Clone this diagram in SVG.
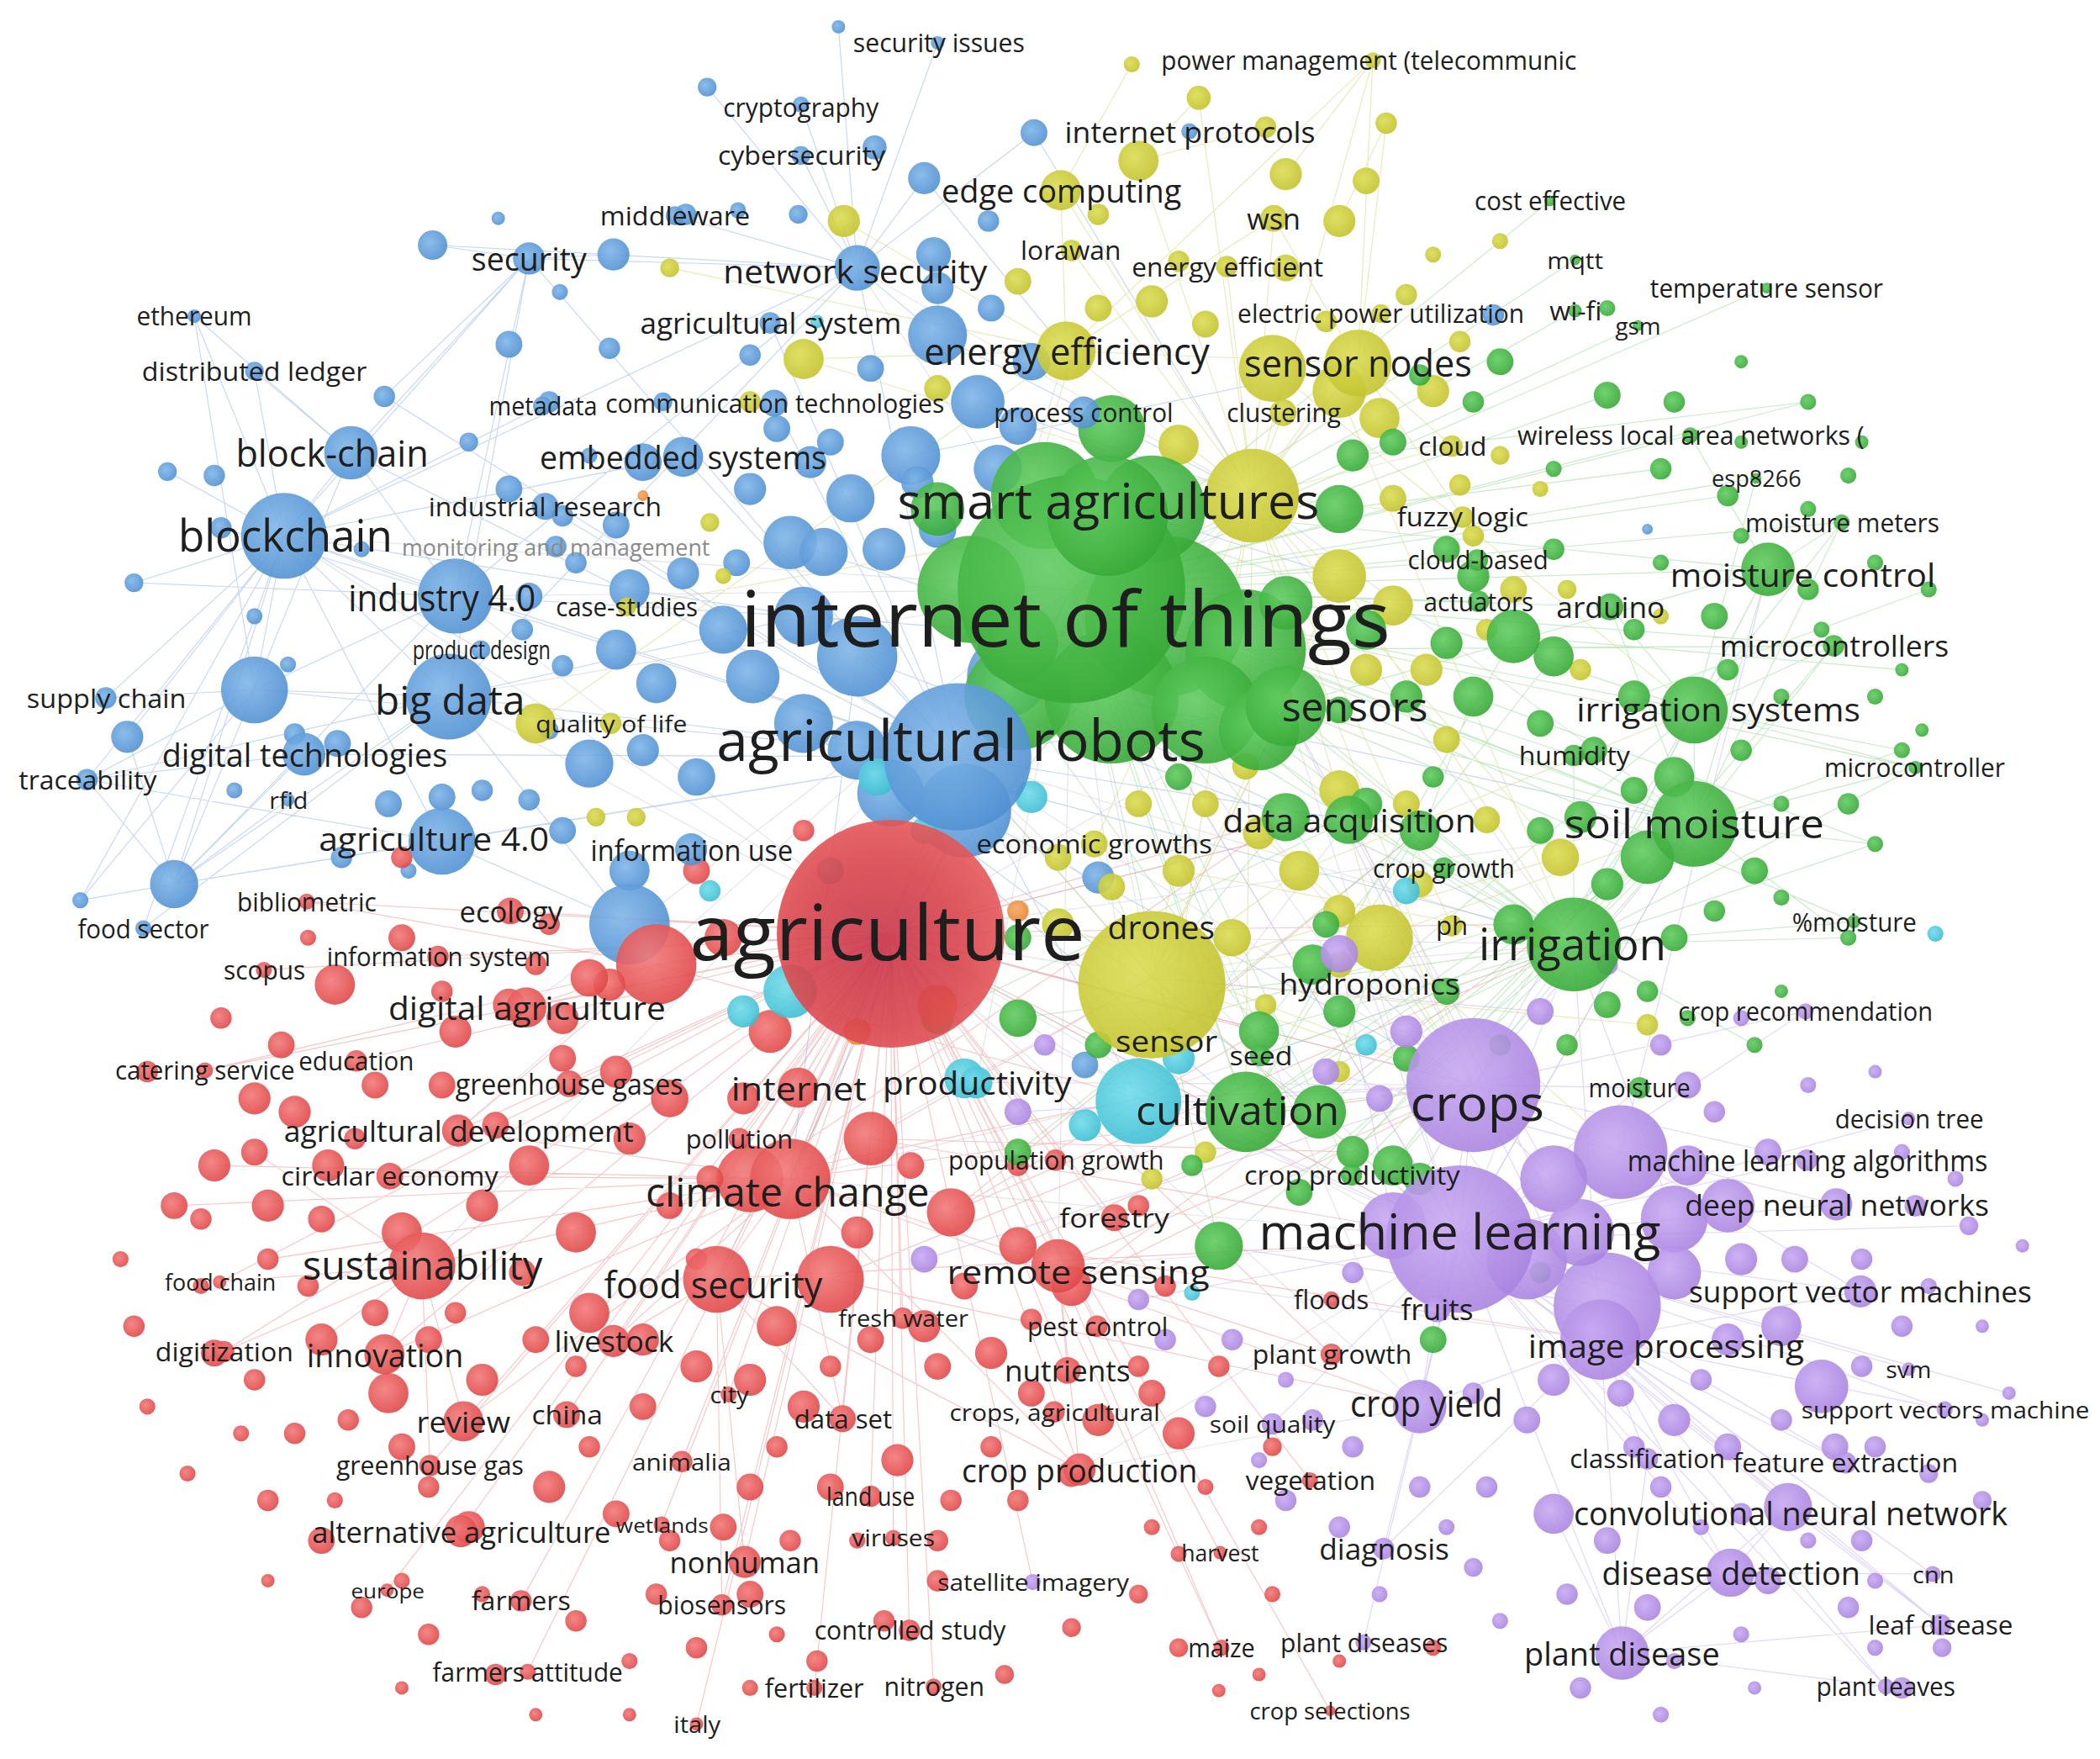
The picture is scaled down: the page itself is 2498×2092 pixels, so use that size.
<svg xmlns="http://www.w3.org/2000/svg" width="2498" height="2092" viewBox="0 0 2498 2092">
<defs>
<radialGradient id="gr" cx=".4" cy=".4" r=".65"><stop offset="0" stop-color="#f27a7a"/><stop offset="1" stop-color="#e04545"/></radialGradient>
<radialGradient id="gr2" cx=".45" cy=".55" r=".6"><stop offset="0" stop-color="#c8344a"/><stop offset=".6" stop-color="#d8444c"/><stop offset="1" stop-color="#e85a5a"/></radialGradient>
<radialGradient id="gb" cx=".4" cy=".4" r=".65"><stop offset="0" stop-color="#80b6e8"/><stop offset="1" stop-color="#4f8fd2"/></radialGradient>
<radialGradient id="gg" cx=".4" cy=".4" r=".65"><stop offset="0" stop-color="#62cc62"/><stop offset="1" stop-color="#35a835"/></radialGradient>
<radialGradient id="gy" cx=".4" cy=".4" r=".65"><stop offset="0" stop-color="#dcdc55"/><stop offset="1" stop-color="#c2c22c"/></radialGradient>
<radialGradient id="gp" cx=".4" cy=".4" r=".65"><stop offset="0" stop-color="#c8aaf2"/><stop offset="1" stop-color="#a983e0"/></radialGradient>
<radialGradient id="gc" cx=".4" cy=".4" r=".65"><stop offset="0" stop-color="#72dcea"/><stop offset="1" stop-color="#3bbdd2"/></radialGradient>
<radialGradient id="go" cx=".4" cy=".4" r=".65"><stop offset="0" stop-color="#f7a860"/><stop offset="1" stop-color="#e8842c"/></radialGradient>
</defs>
<style>
circle{opacity:.9}
.r{fill:url(#gr)}.r2{fill:url(#gr2)}.b{fill:url(#gb)}.g{fill:url(#gg)}.y{fill:url(#gy)}.p{fill:url(#gp)}.c{fill:url(#gc)}.o{fill:url(#go)}
path{fill:none;stroke-width:.7;stroke-linecap:round}
.lr{stroke:#f08c8c;stroke-opacity:.5}.lb{stroke:#9cbde6;stroke-opacity:.6}.lg{stroke:#98d898;stroke-opacity:.55}
.ly{stroke:#d8d88a;stroke-opacity:.6}.lp{stroke:#cdb8f0;stroke-opacity:.6}.lm{stroke:#c8c8d8;stroke-opacity:.5}
text{font-family:"Open Sans","Liberation Sans",sans-serif;fill:#1e1e1e;text-anchor:middle;dominant-baseline:central}
.f15{font-size:15px}.f17{font-size:17px}.f19{font-size:19px}.f22{font-size:22px}.f24{font-size:24px}.f27{font-size:27px}.f30{font-size:30px}.f33{font-size:33px}.f37{font-size:37px}.f42{font-size:42px}.f58{font-size:58px}
.gray{fill:#8a8a8a}
</style>
<rect width="2498" height="2092" fill="#ffffff"/>
<g transform="scale(1.5932)">
<g id="connectors">
<path class="lm" d="M800 440L665 697M800 440L715 565M800 440L1100 810M800 440L1090 925M665 697L1090 925M665 697L1100 810M665 697L715 565M665 697L860 730M665 697L850 820M665 697L212 400M665 697L335 520M665 697L1175 705M665 697L1265 615M800 440L335 520M800 440L212 400M800 440L590 880M800 440L860 730M800 440L850 820M715 565L1175 705M715 565L590 880M800 440L315 945M800 440L535 955M800 440L790 945M800 440L1195 1000M800 440L1060 1050M665 697L1195 1000M665 697L1060 1050M665 697L960 527M665 697L1014 271M665 697L796 262M715 565L1090 925M715 565L1100 810M860 730L1090 925M860 730L1175 705M850 820L1090 925M850 820L1175 705M935 370L1175 705M935 370L1265 615M935 370L665 697M935 370L715 565M640 200L935 370M640 200L800 440M340 445L800 440M340 445L665 697M1100 810L1175 705M1090 925L1175 705M1090 925L1265 615M590 880L1090 925M590 880L850 820M590 880L860 730M960 527L1090 925M960 527L860 730M1007 612L665 697M1007 612L850 820M393 752L800 440M342 844L800 440M596 812L800 440M729 808L800 440M729 808L1100 810M806 1097L1090 925M806 1097L1060 1050M790 945L1090 925M790 945L1195 1000"/>
<path class="lb" d="M212 400L262 338M212 400L190 515M212 400L145 236M212 400L190 277M212 400L79 521M212 400L65 582M212 400L130 660M212 400L335 520M212 400L340 445M212 400L510 341M212 400L640 200M212 400L107 693M212 400L95 550M212 400L60 672M212 400L125 352M212 400L100 435M212 400L715 565M212 400L330 628M212 400L395 193M212 400L600 460M335 520L130 660M335 520L65 582M335 520L190 515M335 520L395 193M335 520L640 200M335 520L715 565M335 520L107 693M335 520L600 460M335 520L470 690M190 515L65 582M190 515L79 521M190 515L60 672M190 515L130 660M190 515L262 338M190 515L145 236M190 515L340 445M190 515L715 565M640 200L395 193M640 200L323 183M640 200L772 99M640 200L598 78M640 200L528 65M640 200L700 32M640 200L715 565M640 200L504 161M640 200L598 116M640 200L626 20M715 565L395 193M715 565L287 296M715 565L227 563M715 565L330 628M715 565L340 445M715 565L510 341M715 565L130 660M715 565L262 338M262 338L190 277M262 338L145 236M262 338L340 445M262 338L395 193M130 660L65 582M130 660L60 672M130 660L95 550M130 660L340 445M130 660L330 628M340 445L100 435M340 445L165 394M340 445L395 193M340 445L640 200M340 445L600 460M395 193L323 183M395 193L458 190M395 193L287 296M330 628L470 690M330 628L65 582M640 200L690 133M640 200L700 250M575 241L715 565M578 301L715 565M405 303L212 400M407 378L715 565M359 485L212 400M227 563L65 582M227 563L130 660M215 597L130 660M715 565L960 527M715 565L1007 612M715 565L860 730M715 565L850 820M640 490L960 610M600 460L930 485M752 505L1175 705M720 605L1100 810M665 592L985 830M640 560L1130 690M680 340L1014 271M730 300L935 370M745 350L1000 430M600 540L930 830M590 405L960 527M640 490L590 880M720 605L590 880M752 505L1265 615M700 250L935 370M690 133L796 262M772 99L935 370"/>
<path class="lr" d="M665 697L490 720M665 697L590 880M665 697L315 945M665 697L535 955M665 697L393 752M665 697L342 844M665 697L291 878M665 697L287 1011M665 697L346 1061M665 697L458 1001M665 697L423 1056M665 697L321 1094M665 697L344 1143M665 697L389 1195M665 697L394 1248M665 697L539 1198M665 697L556 1166M665 697L679 1217M665 697L608 1260M665 697L697 1259M665 697L650 1117M665 697L629 1059M665 697L806 1097M665 697L797 1023M665 697L819 990M665 697L790 945M665 697L832 909M665 697L788 866M665 697L596 812M665 697L425 809M665 697L266 792M665 697L153 799M665 697L197 724M665 697L229 673M665 697L381 680M665 697L327 714M665 697L167 1009M665 697L164 957M665 697L509 1091M665 697L667 1148M665 697L771 1181M665 697L912 1230M665 697L993 1277M665 697L520 1287M665 697L994 1011M665 697L978 1105M665 697L911 1159M665 697L289 1187M665 697L494 1138M665 697L544 1041M665 697L552 850M665 697L674 984M590 880L315 945M590 880L535 955M590 880L342 844M590 880L291 878M590 880L287 1011M590 880L458 1001M590 880L346 1061M590 880L806 1097M590 880L790 945M590 880L629 1059M590 880L160 870M590 880L130 900M590 880L200 940M315 945L167 1009M315 945L164 957M315 945L287 1011M315 945L346 1061M315 945L321 1094M315 945L190 860M315 945L240 1000M535 955L458 1001M535 955L556 1166M535 955L539 1198M535 955L629 1059M535 955L806 1097M790 945L806 1097M790 945L797 1023M790 945L912 1230M790 945L994 1011M490 720L393 752M490 720L342 844M490 720L229 673M490 720L153 799M665 697L1100 810M665 697L1090 925M590 880L1100 810M590 880L1060 1050M790 945L1100 810M650 850L1090 925M710 905L1175 705M560 880L850 820M620 955L1060 1050M535 955L1090 925M760 930L1195 1000M800 960L1100 810M665 697L930 830M665 697L960 610M665 697L1007 612M490 720L850 820M665 697L940 770M650 850L860 730M710 905L940 770M760 930L985 830M650 850L1010 860M620 955L930 830M560 880L960 610M710 905L1060 620M800 960L1230 640M665 697L1130 690"/>
<path class="lg" d="M800 440L960 527M800 440L1175 705M800 440L1265 615M800 440L1265 530M800 440L1320 425M800 440L1202 453M800 440L1104 449M800 440L1103 418M800 440L1369 482M800 440L1430 573M800 440L1175 564M800 440L1007 612M800 440L1078 648M800 440L1262 325M800 440L1375 390M800 440L1311 357M800 440L1157 150M800 440L1176 194M800 440L1176 232M800 440L1223 243M800 440L1319 215M800 440L941 788M800 440L1009 877M800 440L930 830M800 440L910 930M800 440L1384 688M800 440L1200 295M800 440L1350 300M800 440L1290 370M800 440L1420 560M1175 705L1265 615M1175 705L1265 530M1175 705L1320 425M1175 705L1369 482M1175 705L1430 573M1175 705L1384 688M1175 705L1009 877M1175 705L941 788M1175 705L1175 564M1175 705L1078 648M1175 705L1007 612M1175 705L1250 700M1175 705L1380 700M1175 705L1400 630M1175 705L1310 780M1265 615L1265 530M1265 615L1320 425M1265 615L1369 482M1265 615L1430 573M1265 615L1375 390M1265 615L1175 564M1265 615L1202 453M1265 615L1420 560M1265 615L1400 630M1265 615L1380 700M1265 530L1320 425M1265 530L1369 482M1265 530L1430 573M1265 530L1375 390M1265 530L1202 453M1265 530L1311 357M960 527L1175 705M960 527L1265 615M960 527L1320 425M1320 425L1375 390M1320 425L1262 325M960 610L1100 810M960 610L860 730M1020 600L1175 705M930 830L1100 810M930 830L1175 705M985 830L1265 615M940 770L1175 705M1000 755L1265 530M1060 620L930 830M1130 690L930 830M1230 640L930 830M1200 660L1010 860M1250 580L1040 870M1130 475L930 830M1100 520L985 830M1160 490L940 770M960 527L1230 640M900 530L1130 690M870 460L1175 705M870 460L1265 615M830 520L930 830M760 520L940 770M780 370L1265 530M860 380L1320 425M725 440L1007 612M930 485L1265 615M930 485L1369 482M910 930L1175 705M1040 870L1265 615M1010 860L1230 640M970 890L1200 660M760 760L1175 705M700 760L1007 612M820 780L1130 690M760 860L1060 620M1130 475L1420 500M1100 520L1400 630M1010 340L1350 300M1000 380L1240 350M1220 520L1440 440"/>
<path class="ly" d="M935 370L1014 271M935 370L796 262M935 370L951 163M935 370L916 199M935 370L800 187M935 370L1031 234M935 370L958 308M935 370L1084 333M935 370L1092 386M935 370L1025 45M935 370L895 73M935 370L850 120M935 370L792 142M935 370L600 268M935 370L860 730M935 370L1000 430M935 370L1165 640M935 370L1030 700M935 370L871 777M935 370L817 630M935 370L468 453M935 370L1084 691M860 730L1030 700M860 730L871 777M860 730L817 630M860 730L1165 640M860 730L970 650M860 730L1000 430M860 730L1230 765M796 262L1014 271M796 262L951 163M796 262L792 142M796 262L600 268M796 262L630 165M796 262L1025 45M1014 271L951 163M1014 271L1031 234M1014 271L1084 333M1014 271L1092 386M1014 271L1025 45M1014 271L1035 92M796 262L400 540M796 262L500 200M860 730L1100 810M860 730L1090 925M860 730L960 527M860 730L715 565M935 370L1100 810M1030 700L1265 615M1030 700L1100 810M970 650L1265 530M1000 430L1175 705M880 650L1175 705M790 690L1100 810M940 622L1210 860M1000 590L1100 810M800 265L715 565M950 275L1265 530M1000 292L1175 705M935 370L930 830M850 120L895 73M850 120L945 95M960 130L1025 45M1000 165L1035 92M792 142L845 48"/>
<path class="lp" d="M1090 925L1100 810M1090 925L1195 1000M1090 925L1335 1125M1090 925L1292 1174M1090 925L1211 1234M1090 925L1449 1213M1090 925L1408 1259M1090 925L1443 1175M1090 925L1378 1092M1090 925L1230 1089M1090 925L1452 1052M1090 925L1425 1022M1090 925L1389 964M1090 925L1371 899M1090 925L1349 866M1090 925L1425 835M1090 925L1224 812M1090 925L1348 755M1090 925L1060 1050M1090 925L1033 1156M1090 925L1018 1226M1090 925L950 1063M1090 925L1073 977M1090 925L1022 734M1090 925L1200 975M1090 925L1210 860M1090 925L1470 915M1090 925L1500 1040M1195 1000L1335 1125M1195 1000L1292 1174M1195 1000L1211 1234M1195 1000L1443 1175M1195 1000L1449 1213M1195 1000L1408 1259M1195 1000L1378 1092M1195 1000L1230 1089M1195 1000L1060 1050M1195 1000L1033 1156M1195 1000L1389 964M1195 1000L1452 1052M1100 810L1022 734M1100 810L1224 812M1100 810L1348 755M1100 810L1210 860M1100 810L1349 866M1100 810L1060 1050M1100 810L1195 1000M1211 1234L1292 1174M1211 1234L1335 1125M1211 1234L1408 1259M1211 1234L1449 1213M1211 1234L1160 1130M1211 1234L1230 1089M1335 1125L1449 1213M1335 1125L1292 1174M1292 1174L1443 1175M1210 860L1371 899M1210 860L1389 964M1100 810L850 820M1100 810L760 830M1100 810L690 940M1090 925L780 780M1090 925L850 970M1040 915L1000 712M1210 860L990 800M1160 880L1050 770M1150 755L860 730M1200 975L910 930M1100 810L1265 615M1090 925L1265 615M1195 1000L1175 705M1040 915L1265 530M1160 880L1007 612M1250 910L1175 705M1210 860L1320 425M1100 810L960 527M1090 925L800 440M1200 975L960 527"/>
</g>
<g id="minor-nodes">
<circle class="b" cx="626" cy="20" r="5"/><circle class="b" cx="528" cy="65" r="7"/><circle class="b" cx="653" cy="110" r="9"/><circle class="b" cx="690" cy="133" r="12"/><circle class="b" cx="772" cy="99" r="10"/><circle class="b" cx="738" cy="165" r="8"/><circle class="b" cx="323" cy="183" r="11"/><circle class="b" cx="372" cy="163" r="5"/><circle class="b" cx="458" cy="190" r="12"/><circle class="b" cx="418" cy="218" r="6"/><circle class="b" cx="512" cy="160" r="8"/><circle class="b" cx="551" cy="157" r="6"/><circle class="b" cx="596" cy="160" r="7"/><circle class="b" cx="697" cy="190" r="13"/><circle class="b" cx="700" cy="215" r="12"/><circle class="b" cx="700" cy="250" r="22"/><circle class="b" cx="650" cy="275" r="10"/><circle class="b" cx="560" cy="265" r="8"/><circle class="b" cx="455" cy="260" r="8"/><circle class="b" cx="380" cy="257" r="10"/><circle class="b" cx="410" cy="300" r="8"/><circle class="b" cx="287" cy="296" r="8"/><circle class="b" cx="125" cy="352" r="7"/><circle class="b" cx="160" cy="355" r="8"/><circle class="b" cx="350" cy="330" r="7"/><circle class="b" cx="380" cy="365" r="10"/><circle class="b" cx="420" cy="385" r="8"/><circle class="b" cx="460" cy="392" r="10"/><circle class="b" cx="480" cy="345" r="14"/><circle class="b" cx="560" cy="365" r="12"/><circle class="b" cx="590" cy="405" r="20"/><circle class="b" cx="615" cy="412" r="18"/><circle class="b" cx="635" cy="372" r="18"/><circle class="b" cx="680" cy="340" r="22"/><circle class="b" cx="730" cy="300" r="20"/><circle class="b" cx="760" cy="318" r="14"/><circle class="b" cx="745" cy="350" r="18"/><circle class="b" cx="100" cy="435" r="7"/><circle class="b" cx="165" cy="394" r="8"/><circle class="b" cx="190" cy="460" r="6"/><circle class="b" cx="395" cy="445" r="10"/><circle class="b" cx="430" cy="420" r="8"/><circle class="b" cx="470" cy="440" r="15"/><circle class="b" cx="510" cy="428" r="12"/><circle class="b" cx="540" cy="470" r="18"/><circle class="b" cx="562" cy="505" r="20"/><circle class="b" cx="600" cy="460" r="22"/><circle class="b" cx="640" cy="490" r="30"/><circle class="b" cx="190" cy="515" r="25"/><circle class="b" cx="95" cy="550" r="12"/><circle class="b" cx="215" cy="496" r="6"/><circle class="b" cx="220" cy="548" r="8"/><circle class="b" cx="252" cy="555" r="10"/><circle class="b" cx="390" cy="470" r="8"/><circle class="b" cx="420" cy="497" r="8"/><circle class="b" cx="460" cy="485" r="15"/><circle class="b" cx="490" cy="510" r="15"/><circle class="b" cx="440" cy="570" r="18"/><circle class="b" cx="480" cy="560" r="12"/><circle class="b" cx="520" cy="580" r="14"/><circle class="b" cx="600" cy="540" r="22"/><circle class="b" cx="640" cy="560" r="22"/><circle class="b" cx="720" cy="605" r="35"/><circle class="b" cx="665" cy="592" r="25"/><circle class="b" cx="752" cy="505" r="30"/><circle class="b" cx="60" cy="672" r="6"/><circle class="b" cx="130" cy="660" r="18"/><circle class="b" cx="255" cy="640" r="8"/><circle class="b" cx="290" cy="600" r="10"/><circle class="b" cx="360" cy="590" r="8"/><circle class="b" cx="420" cy="620" r="10"/><circle class="b" cx="470" cy="650" r="15"/><circle class="b" cx="470" cy="690" r="30"/><circle class="b" cx="395" cy="597" r="8"/><circle class="b" cx="770" cy="270" r="14"/><circle class="b" cx="740" cy="230" r="10"/><circle class="b" cx="660" cy="410" r="16"/><circle class="b" cx="700" cy="395" r="14"/><circle class="b" cx="550" cy="420" r="10"/><circle class="b" cx="410" cy="545" r="7"/><circle class="b" cx="580" cy="320" r="10"/><circle class="b" cx="605" cy="345" r="12"/><circle class="b" cx="270" cy="410" r="6"/><circle class="b" cx="175" cy="590" r="6"/><circle class="b" cx="305" cy="650" r="6"/><circle class="b" cx="330" cy="595" r="10"/><circle class="b" cx="820" cy="655" r="12"/><circle class="b" cx="810" cy="795" r="10"/><circle class="b" cx="685" cy="360" r="12"/><circle class="b" cx="620" cy="330" r="10"/><circle class="b" cx="495" cy="300" r="7"/><circle class="b" cx="440" cy="340" r="6"/><circle class="b" cx="1115" cy="235" r="8"/><circle class="b" cx="1230" cy="395" r="4"/>
<circle class="r" cx="490" cy="720" r="30"/><circle class="r" cx="455" cy="735" r="12"/><circle class="r" cx="540" cy="700" r="14"/><circle class="r" cx="575" cy="770" r="16"/><circle class="r" cx="560" cy="880" r="25"/><circle class="r" cx="650" cy="850" r="20"/><circle class="r" cx="710" cy="905" r="18"/><circle class="r" cx="760" cy="930" r="14"/><circle class="r" cx="800" cy="960" r="15"/><circle class="r" cx="620" cy="955" r="25"/><circle class="r" cx="300" cy="920" r="15"/><circle class="r" cx="250" cy="735" r="15"/><circle class="r" cx="245" cy="870" r="12"/><circle class="r" cx="300" cy="700" r="10"/><circle class="r" cx="380" cy="750" r="12"/><circle class="r" cx="420" cy="760" r="12"/><circle class="r" cx="440" cy="730" r="14"/><circle class="r" cx="420" cy="790" r="10"/><circle class="r" cx="460" cy="800" r="12"/><circle class="r" cx="500" cy="820" r="14"/><circle class="r" cx="555" cy="820" r="12"/><circle class="r" cx="470" cy="850" r="12"/><circle class="r" cx="395" cy="870" r="15"/><circle class="r" cx="360" cy="900" r="12"/><circle class="r" cx="430" cy="920" r="15"/><circle class="r" cx="500" cy="900" r="10"/><circle class="r" cx="220" cy="830" r="12"/><circle class="r" cx="190" cy="860" r="10"/><circle class="r" cx="160" cy="870" r="12"/><circle class="r" cx="130" cy="900" r="10"/><circle class="r" cx="200" cy="900" r="12"/><circle class="r" cx="240" cy="910" r="10"/><circle class="r" cx="280" cy="980" r="10"/><circle class="r" cx="240" cy="1000" r="12"/><circle class="r" cx="290" cy="1040" r="15"/><circle class="r" cx="320" cy="1000" r="10"/><circle class="r" cx="360" cy="1030" r="12"/><circle class="r" cx="400" cy="1000" r="10"/><circle class="r" cx="440" cy="980" r="15"/><circle class="r" cx="480" cy="1000" r="12"/><circle class="r" cx="520" cy="1020" r="12"/><circle class="r" cx="560" cy="1030" r="12"/><circle class="r" cx="580" cy="990" r="15"/><circle class="r" cx="600" cy="1050" r="12"/><circle class="r" cx="650" cy="1000" r="10"/><circle class="r" cx="690" cy="990" r="12"/><circle class="r" cx="700" cy="1020" r="10"/><circle class="r" cx="740" cy="1010" r="12"/><circle class="r" cx="770" cy="1040" r="10"/><circle class="r" cx="820" cy="1060" r="12"/><circle class="r" cx="860" cy="1040" r="10"/><circle class="r" cx="880" cy="1070" r="12"/><circle class="r" cx="800" cy="1100" r="10"/><circle class="r" cx="760" cy="1120" r="8"/><circle class="r" cx="700" cy="1150" r="8"/><circle class="r" cx="670" cy="1090" r="12"/><circle class="r" cx="620" cy="1110" r="10"/><circle class="r" cx="560" cy="1110" r="10"/><circle class="r" cx="540" cy="1140" r="10"/><circle class="r" cx="500" cy="1150" r="8"/><circle class="r" cx="460" cy="1130" r="10"/><circle class="r" cx="410" cy="1110" r="12"/><circle class="r" cx="350" cy="1140" r="12"/><circle class="r" cx="320" cy="1110" r="8"/><circle class="r" cx="300" cy="1080" r="10"/><circle class="r" cx="260" cy="1060" r="8"/><circle class="r" cx="220" cy="1070" r="8"/><circle class="r" cx="190" cy="1030" r="8"/><circle class="r" cx="160" cy="1010" r="10"/><circle class="r" cx="200" cy="1120" r="8"/><circle class="r" cx="240" cy="1150" r="10"/><circle class="r" cx="270" cy="1200" r="8"/><circle class="r" cx="320" cy="1220" r="8"/><circle class="r" cx="370" cy="1250" r="8"/><circle class="r" cx="430" cy="1210" r="8"/><circle class="r" cx="470" cy="1240" r="6"/><circle class="r" cx="520" cy="1230" r="8"/><circle class="r" cx="560" cy="1260" r="6"/><circle class="r" cx="610" cy="1240" r="8"/><circle class="r" cx="660" cy="1210" r="8"/><circle class="r" cx="700" cy="1180" r="8"/><circle class="r" cx="750" cy="1250" r="7"/><circle class="r" cx="800" cy="1215" r="7"/><circle class="r" cx="850" cy="1190" r="7"/><circle class="r" cx="880" cy="1230" r="7"/><circle class="r" cx="910" cy="1262" r="5"/><circle class="r" cx="860" cy="1140" r="6"/><circle class="r" cx="940" cy="1140" r="6"/><circle class="r" cx="900" cy="1110" r="6"/><circle class="r" cx="950" cy="1080" r="7"/><circle class="r" cx="560" cy="1190" r="10"/><circle class="r" cx="490" cy="1190" r="8"/><circle class="r" cx="200" cy="940" r="8"/><circle class="r" cx="150" cy="960" r="6"/><circle class="r" cx="100" cy="990" r="8"/><circle class="r" cx="110" cy="1050" r="6"/><circle class="r" cx="90" cy="940" r="6"/><circle class="r" cx="110" cy="800" r="8"/><circle class="r" cx="165" cy="760" r="8"/><circle class="r" cx="210" cy="780" r="10"/><circle class="r" cx="190" cy="820" r="12"/><circle class="r" cx="280" cy="810" r="10"/><circle class="r" cx="330" cy="810" r="10"/><circle class="r" cx="340" cy="770" r="12"/><circle class="r" cx="370" cy="840" r="10"/><circle class="r" cx="400" cy="720" r="8"/><circle class="r" cx="410" cy="690" r="8"/><circle class="r" cx="300" cy="640" r="8"/><circle class="r" cx="230" cy="700" r="6"/><circle class="r" cx="330" cy="740" r="8"/><circle class="r" cx="520" cy="650" r="10"/><circle class="r" cx="600" cy="620" r="8"/><circle class="r" cx="340" cy="980" r="8"/><circle class="r" cx="230" cy="960" r="8"/><circle class="r" cx="265" cy="850" r="8"/><circle class="r" cx="150" cy="910" r="8"/><circle class="r" cx="440" cy="1080" r="8"/><circle class="r" cx="580" cy="1080" r="8"/><circle class="r" cx="740" cy="1080" r="8"/><circle class="r" cx="720" cy="960" r="10"/><circle class="r" cx="680" cy="870" r="10"/><circle class="r" cx="640" cy="920" r="12"/><circle class="r" cx="530" cy="880" r="10"/><circle class="r" cx="520" cy="940" r="8"/><circle class="r" cx="760" cy="870" r="8"/><circle class="r" cx="850" cy="900" r="8"/><circle class="r" cx="870" cy="960" r="8"/><circle class="r" cx="910" cy="1020" r="8"/><circle class="r" cx="950" cy="1190" r="6"/><circle class="r" cx="1070" cy="1230" r="6"/><circle class="r" cx="1000" cy="1240" r="5"/><circle class="r" cx="400" cy="1280" r="5"/><circle class="r" cx="300" cy="1180" r="6"/><circle class="r" cx="140" cy="1100" r="6"/><circle class="r" cx="360" cy="1190" r="6"/><circle class="r" cx="640" cy="1150" r="6"/><circle class="r" cx="590" cy="1150" r="8"/><circle class="r" cx="710" cy="1120" r="8"/><circle class="r" cx="770" cy="985" r="8"/><circle class="r" cx="300" cy="1260" r="5"/><circle class="r" cx="470" cy="1280" r="5"/><circle class="r" cx="580" cy="1220" r="6"/><circle class="r" cx="200" cy="1180" r="5"/><circle class="r" cx="180" cy="1070" r="6"/><circle class="r" cx="880" cy="1160" r="6"/><circle class="r" cx="940" cy="1250" r="5"/><circle class="r" cx="480" cy="1050" r="10"/><circle class="r" cx="620" cy="1020" r="8"/><circle class="r" cx="390" cy="950" r="10"/><circle class="r" cx="430" cy="1020" r="8"/><circle class="r" cx="250" cy="1120" r="6"/><circle class="r" cx="850" cy="1020" r="8"/>
<circle class="y" cx="600" cy="268" r="15"/><circle class="y" cx="630" cy="165" r="12"/><circle class="y" cx="850" cy="120" r="15"/><circle class="y" cx="895" cy="73" r="9"/><circle class="y" cx="845" cy="48" r="6"/><circle class="y" cx="1035" cy="92" r="8"/><circle class="y" cx="945" cy="95" r="8"/><circle class="y" cx="960" cy="130" r="12"/><circle class="y" cx="1020" cy="135" r="10"/><circle class="y" cx="1000" cy="165" r="12"/><circle class="y" cx="860" cy="225" r="12"/><circle class="y" cx="900" cy="242" r="10"/><circle class="y" cx="950" cy="275" r="25"/><circle class="y" cx="1000" cy="292" r="20"/><circle class="y" cx="1030" cy="312" r="15"/><circle class="y" cx="1070" cy="292" r="12"/><circle class="y" cx="1090" cy="255" r="8"/><circle class="y" cx="935" cy="370" r="35"/><circle class="y" cx="880" cy="332" r="15"/><circle class="y" cx="1040" cy="372" r="10"/><circle class="y" cx="1090" cy="362" r="8"/><circle class="y" cx="1150" cy="365" r="6"/><circle class="y" cx="1120" cy="340" r="7"/><circle class="y" cx="1000" cy="430" r="20"/><circle class="y" cx="1040" cy="452" r="15"/><circle class="y" cx="1065" cy="500" r="12"/><circle class="y" cx="1130" cy="440" r="10"/><circle class="y" cx="1170" cy="440" r="7"/><circle class="y" cx="1240" cy="460" r="6"/><circle class="y" cx="1165" cy="640" r="14"/><circle class="y" cx="1030" cy="700" r="25"/><circle class="y" cx="970" cy="650" r="15"/><circle class="y" cx="1000" cy="680" r="12"/><circle class="y" cx="940" cy="622" r="12"/><circle class="y" cx="880" cy="650" r="12"/><circle class="y" cx="830" cy="662" r="10"/><circle class="y" cx="790" cy="690" r="12"/><circle class="y" cx="790" cy="640" r="10"/><circle class="y" cx="930" cy="572" r="10"/><circle class="y" cx="1080" cy="552" r="10"/><circle class="y" cx="1110" cy="612" r="10"/><circle class="y" cx="1230" cy="765" r="8"/><circle class="y" cx="900" cy="860" r="8"/><circle class="y" cx="860" cy="880" r="8"/><circle class="y" cx="530" cy="390" r="7"/><circle class="y" cx="500" cy="200" r="7"/><circle class="y" cx="400" cy="540" r="15"/><circle class="y" cx="445" cy="610" r="7"/><circle class="y" cx="475" cy="610" r="7"/><circle class="y" cx="1000" cy="590" r="15"/><circle class="y" cx="1050" cy="600" r="10"/><circle class="y" cx="960" cy="200" r="10"/><circle class="y" cx="1050" cy="220" r="8"/><circle class="y" cx="880" cy="195" r="8"/><circle class="y" cx="820" cy="160" r="8"/><circle class="y" cx="760" cy="210" r="10"/><circle class="y" cx="700" cy="290" r="10"/><circle class="y" cx="1100" cy="400" r="8"/><circle class="y" cx="1180" cy="500" r="8"/><circle class="y" cx="1060" cy="660" r="10"/><circle class="y" cx="900" cy="600" r="10"/><circle class="y" cx="850" cy="600" r="10"/><circle class="y" cx="920" cy="700" r="14"/><circle class="y" cx="1000" cy="720" r="10"/><circle class="y" cx="560" cy="300" r="8"/><circle class="y" cx="540" cy="430" r="6"/><circle class="y" cx="820" cy="230" r="10"/><circle class="y" cx="990" cy="240" r="8"/><circle class="y" cx="1120" cy="180" r="6"/><circle class="y" cx="1070" cy="190" r="6"/><circle class="y" cx="950" cy="520" r="15"/><circle class="y" cx="1020" cy="500" r="12"/><circle class="y" cx="1110" cy="470" r="8"/><circle class="y" cx="1150" cy="700" r="8"/><circle class="y" cx="1000" cy="800" r="8"/><circle class="y" cx="945" cy="750" r="8"/>
<circle class="g" cx="870" cy="460" r="60"/><circle class="g" cx="930" cy="485" r="45"/><circle class="g" cx="760" cy="520" r="40"/><circle class="g" cx="830" cy="520" r="50"/><circle class="g" cx="725" cy="440" r="40"/><circle class="g" cx="780" cy="370" r="40"/><circle class="g" cx="860" cy="380" r="40"/><circle class="g" cx="900" cy="530" r="40"/><circle class="g" cx="940" cy="545" r="30"/><circle class="g" cx="1000" cy="380" r="18"/><circle class="g" cx="1010" cy="340" r="12"/><circle class="g" cx="1040" cy="330" r="10"/><circle class="g" cx="1100" cy="300" r="8"/><circle class="g" cx="1120" cy="270" r="10"/><circle class="g" cx="1200" cy="295" r="10"/><circle class="g" cx="1250" cy="300" r="8"/><circle class="g" cx="1350" cy="300" r="6"/><circle class="g" cx="1240" cy="350" r="8"/><circle class="g" cx="1300" cy="330" r="5"/><circle class="g" cx="1380" cy="355" r="6"/><circle class="g" cx="1290" cy="370" r="8"/><circle class="g" cx="1280" cy="460" r="10"/><circle class="g" cx="1350" cy="440" r="8"/><circle class="g" cx="1220" cy="520" r="12"/><circle class="g" cx="1160" cy="490" r="15"/><circle class="g" cx="1130" cy="475" r="20"/><circle class="g" cx="1100" cy="520" r="15"/><circle class="g" cx="1190" cy="560" r="10"/><circle class="g" cx="1250" cy="580" r="15"/><circle class="g" cx="1230" cy="640" r="20"/><circle class="g" cx="1200" cy="660" r="12"/><circle class="g" cx="1130" cy="690" r="15"/><circle class="g" cx="1060" cy="620" r="15"/><circle class="g" cx="1020" cy="600" r="12"/><circle class="g" cx="960" cy="610" r="18"/><circle class="g" cx="980" cy="720" r="15"/><circle class="g" cx="1000" cy="755" r="12"/><circle class="g" cx="940" cy="770" r="15"/><circle class="g" cx="930" cy="830" r="30"/><circle class="g" cx="985" cy="830" r="20"/><circle class="g" cx="1010" cy="860" r="12"/><circle class="g" cx="1040" cy="870" r="15"/><circle class="g" cx="1060" cy="880" r="12"/><circle class="g" cx="970" cy="890" r="10"/><circle class="g" cx="910" cy="930" r="18"/><circle class="g" cx="1070" cy="1000" r="10"/><circle class="g" cx="1120" cy="780" r="8"/><circle class="g" cx="1170" cy="780" r="8"/><circle class="g" cx="1200" cy="750" r="10"/><circle class="g" cx="1250" cy="700" r="10"/><circle class="g" cx="1330" cy="600" r="6"/><circle class="g" cx="1400" cy="630" r="6"/><circle class="g" cx="1420" cy="560" r="6"/><circle class="g" cx="1435" cy="545" r="5"/><circle class="g" cx="1380" cy="700" r="6"/><circle class="g" cx="1310" cy="780" r="6"/><circle class="g" cx="760" cy="760" r="14"/><circle class="g" cx="820" cy="780" r="10"/><circle class="g" cx="700" cy="760" r="12"/><circle class="g" cx="760" cy="860" r="10"/><circle class="g" cx="1100" cy="430" r="12"/><circle class="g" cx="1080" cy="410" r="10"/><circle class="g" cx="1020" cy="470" r="15"/><circle class="g" cx="1050" cy="520" r="12"/><circle class="g" cx="1300" cy="560" r="8"/><circle class="g" cx="1330" cy="520" r="6"/><circle class="g" cx="1360" cy="470" r="6"/><circle class="g" cx="1290" cy="500" r="8"/><circle class="g" cx="1310" cy="650" r="10"/><circle class="g" cx="1150" cy="620" r="10"/><circle class="g" cx="1230" cy="740" r="8"/><circle class="g" cx="1280" cy="680" r="8"/><circle class="g" cx="1330" cy="670" r="6"/><circle class="g" cx="1400" cy="520" r="6"/><circle class="g" cx="1420" cy="500" r="5"/><circle class="g" cx="1220" cy="590" r="10"/><circle class="g" cx="1180" cy="610" r="12"/><circle class="g" cx="1150" cy="540" r="10"/><circle class="g" cx="1070" cy="580" r="8"/><circle class="g" cx="990" cy="690" r="10"/><circle class="g" cx="880" cy="580" r="10"/><circle class="g" cx="1050" cy="790" r="10"/><circle class="g" cx="1080" cy="740" r="10"/><circle class="g" cx="1260" cy="760" r="6"/><circle class="g" cx="1350" cy="380" r="6"/><circle class="g" cx="1400" cy="420" r="6"/><circle class="g" cx="1440" cy="440" r="6"/><circle class="g" cx="1390" cy="330" r="5"/><circle class="g" cx="1300" cy="400" r="6"/><circle class="g" cx="1160" cy="350" r="6"/><circle class="g" cx="1060" cy="280" r="8"/><circle class="g" cx="700" cy="380" r="20"/><circle class="g" cx="830" cy="320" r="25"/><circle class="g" cx="760" cy="480" r="30"/><circle class="g" cx="960" cy="450" r="20"/><circle class="g" cx="1220" cy="470" r="8"/><circle class="g" cx="1160" cy="410" r="8"/><circle class="g" cx="760" cy="700" r="10"/><circle class="g" cx="1150" cy="950" r="8"/><circle class="g" cx="890" cy="870" r="8"/><circle class="g" cx="1330" cy="740" r="5"/><circle class="g" cx="1380" cy="600" r="8"/><circle class="g" cx="1000" cy="530" r="10"/><circle class="g" cx="1080" cy="480" r="12"/><circle class="g" cx="1240" cy="420" r="6"/><circle class="g" cx="1300" cy="270" r="5"/><circle class="g" cx="1200" cy="230" r="6"/>
<circle class="p" cx="1040" cy="915" r="25"/><circle class="p" cx="1200" cy="975" r="40"/><circle class="p" cx="1210" cy="860" r="35"/><circle class="p" cx="1160" cy="880" r="25"/><circle class="p" cx="1250" cy="910" r="25"/><circle class="p" cx="1300" cy="940" r="12"/><circle class="p" cx="1360" cy="1035" r="20"/><circle class="p" cx="1390" cy="1020" r="8"/><circle class="p" cx="1420" cy="990" r="8"/><circle class="p" cx="1470" cy="915" r="7"/><circle class="p" cx="1430" cy="900" r="8"/><circle class="p" cx="1500" cy="1040" r="5"/><circle class="p" cx="1480" cy="1060" r="5"/><circle class="p" cx="1370" cy="1080" r="10"/><circle class="p" cx="1290" cy="1080" r="10"/><circle class="p" cx="1250" cy="1060" r="12"/><circle class="p" cx="1210" cy="1040" r="10"/><circle class="p" cx="1160" cy="1030" r="12"/><circle class="p" cx="1160" cy="1130" r="15"/><circle class="p" cx="1110" cy="1110" r="8"/><circle class="p" cx="1010" cy="1080" r="8"/><circle class="p" cx="980" cy="1060" r="8"/><circle class="p" cx="920" cy="1000" r="8"/><circle class="p" cx="900" cy="1050" r="8"/><circle class="p" cx="960" cy="1120" r="8"/><circle class="p" cx="1000" cy="1140" r="8"/><circle class="p" cx="1100" cy="1170" r="7"/><circle class="p" cx="1200" cy="1150" r="10"/><circle class="p" cx="1240" cy="1110" r="8"/><circle class="p" cx="1230" cy="1200" r="10"/><circle class="p" cx="1320" cy="1180" r="10"/><circle class="p" cx="1390" cy="1150" r="8"/><circle class="p" cx="1380" cy="1200" r="8"/><circle class="p" cx="1450" cy="1230" r="7"/><circle class="p" cx="1420" cy="1260" r="8"/><circle class="p" cx="1480" cy="1120" r="7"/><circle class="p" cx="1260" cy="810" r="10"/><circle class="p" cx="1300" cy="760" r="6"/><circle class="p" cx="1150" cy="755" r="10"/><circle class="p" cx="990" cy="800" r="10"/><circle class="p" cx="760" cy="830" r="10"/><circle class="p" cx="780" cy="780" r="8"/><circle class="p" cx="690" cy="940" r="10"/><circle class="p" cx="850" cy="970" r="8"/><circle class="p" cx="870" cy="1000" r="8"/><circle class="p" cx="1260" cy="870" r="15"/><circle class="p" cx="1290" cy="900" r="20"/><circle class="p" cx="1420" cy="860" r="6"/><circle class="p" cx="1460" cy="880" r="6"/><circle class="p" cx="1320" cy="860" r="10"/><circle class="p" cx="1400" cy="1080" r="8"/><circle class="p" cx="1440" cy="1100" r="7"/><circle class="p" cx="1140" cy="940" r="30"/><circle class="p" cx="1180" cy="920" r="25"/><circle class="p" cx="1250" cy="950" r="20"/><circle class="p" cx="1330" cy="990" r="15"/><circle class="p" cx="1290" cy="1000" r="12"/><circle class="p" cx="1220" cy="1080" r="8"/><circle class="p" cx="1140" cy="1060" r="10"/><circle class="p" cx="1100" cy="1040" r="8"/><circle class="p" cx="1270" cy="1030" r="8"/><circle class="p" cx="1330" cy="1060" r="8"/><circle class="p" cx="1300" cy="1130" r="8"/><circle class="p" cx="1270" cy="1140" r="6"/><circle class="p" cx="1170" cy="1190" r="8"/><circle class="p" cx="1350" cy="1150" r="6"/><circle class="p" cx="1240" cy="1280" r="6"/><circle class="p" cx="1180" cy="1260" r="8"/><circle class="p" cx="1300" cy="1220" r="6"/><circle class="p" cx="1400" cy="1180" r="6"/><circle class="p" cx="1060" cy="1110" r="8"/><circle class="p" cx="1120" cy="1210" r="6"/><circle class="p" cx="1080" cy="1140" r="6"/><circle class="p" cx="1030" cy="1190" r="6"/><circle class="p" cx="1340" cy="940" r="10"/><circle class="p" cx="1390" cy="940" r="8"/><circle class="p" cx="1440" cy="960" r="6"/><circle class="p" cx="1240" cy="780" r="8"/><circle class="p" cx="1280" cy="830" r="8"/><circle class="p" cx="1350" cy="810" r="6"/><circle class="p" cx="1400" cy="800" r="5"/><circle class="p" cx="1200" cy="720" r="8"/><circle class="p" cx="1050" cy="770" r="12"/><circle class="p" cx="1030" cy="820" r="10"/><circle class="p" cx="1010" cy="950" r="8"/><circle class="p" cx="960" cy="1030" r="6"/><circle class="p" cx="940" cy="1090" r="6"/><circle class="p" cx="1480" cy="990" r="5"/><circle class="p" cx="1510" cy="930" r="5"/><circle class="p" cx="1400" cy="1230" r="6"/><circle class="p" cx="1250" cy="1240" r="6"/><circle class="p" cx="1310" cy="1260" r="5"/>
<circle class="c" cx="590" cy="740" r="20"/><circle class="c" cx="555" cy="755" r="12"/><circle class="c" cx="720" cy="805" r="15"/><circle class="c" cx="655" cy="580" r="14"/><circle class="c" cx="1050" cy="665" r="10"/><circle class="c" cx="1445" cy="697" r="6"/><circle class="c" cx="890" cy="965" r="6"/><circle class="c" cx="610" cy="240" r="5"/><circle class="c" cx="530" cy="665" r="8"/><circle class="c" cx="620" cy="650" r="10"/><circle class="c" cx="770" cy="595" r="12"/><circle class="c" cx="880" cy="790" r="12"/><circle class="c" cx="810" cy="840" r="12"/><circle class="c" cx="690" cy="620" r="10"/><circle class="c" cx="1020" cy="780" r="8"/>
<circle class="o" cx="700" cy="750" r="15"/><circle class="o" cx="480" cy="370" r="4"/><circle class="o" cx="640" cy="770" r="10"/><circle class="o" cx="760" cy="680" r="8"/>
</g>
<g id="nodes">
<g id="n-internet-of-things"><circle class="g" cx="800" cy="440" r="85"/><text class="f58" x="795.5" y="460" textLength="485" lengthAdjust="spacingAndGlyphs">internet of things</text></g>
<g id="n-agriculture"><circle class="r2" cx="665" cy="697" r="85"/><text class="f58" x="662.5" y="694" textLength="295" lengthAdjust="spacingAndGlyphs">agriculture</text></g>
<g id="n-agricultural-robots"><circle class="b" cx="715" cy="565" r="55"/><text class="f42" x="717.5" y="552" textLength="365" lengthAdjust="spacingAndGlyphs">agricultural robots</text></g>
<g id="n-drones"><circle class="y" cx="860" cy="735" r="55"/><text class="f24" x="867" y="692" textLength="80" lengthAdjust="spacingAndGlyphs">drones</text></g>
<g id="n-machine-learning"><circle class="p" cx="1090" cy="925" r="55"/><text class="f37" x="1090" y="918" textLength="300" lengthAdjust="spacingAndGlyphs">machine learning</text></g>
<g id="n-crops"><circle class="p" cx="1100" cy="810" r="50"/><text class="f37" x="1103" y="822" textLength="100" lengthAdjust="spacingAndGlyphs">crops</text></g>
<g id="n-smart-agricultures"><circle class="g" cx="827" cy="385" r="45"/><text class="f37" x="827.5" y="373" textLength="315" lengthAdjust="spacingAndGlyphs">smart agricultures</text></g>
<g id="n-irrigation"><circle class="g" cx="1175" cy="705" r="35"/><text class="f33" x="1174" y="704" textLength="140" lengthAdjust="spacingAndGlyphs">irrigation</text></g>
<g id="n-blockchain"><circle class="b" cx="212" cy="400" r="32"/><text class="f33" x="213" y="399" textLength="160" lengthAdjust="spacingAndGlyphs">blockchain</text></g>
<g id="n-big-data"><circle class="b" cx="335" cy="520" r="32"/><text class="f30" x="336" y="522" textLength="112" lengthAdjust="spacingAndGlyphs">big data</text></g>
<g id="n-soil-moisture"><circle class="g" cx="1265" cy="615" r="32"/><text class="f30" x="1265" y="614" textLength="194" lengthAdjust="spacingAndGlyphs">soil moisture</text></g>
<g id="n-cultivation"><circle class="c" cx="850" cy="822" r="32"/><text class="f30" x="924" y="828" textLength="152" lengthAdjust="spacingAndGlyphs">cultivation</text></g>
<g id="n-climate-change"><circle class="r" cx="590" cy="880" r="30"/><text class="f30" x="588" y="889" textLength="212" lengthAdjust="spacingAndGlyphs">climate change</text></g>
<g id="n-sensors"><circle class="g" cx="960" cy="527" r="30"/><text class="f30" x="1011.5" y="527" textLength="109" lengthAdjust="spacingAndGlyphs">sensors</text></g>
<g id="n-image-processing"><circle class="p" cx="1195" cy="1000" r="30"/><text class="f24" x="1244" y="1004" textLength="206" lengthAdjust="spacingAndGlyphs">image processing</text></g>
<g id="n-industry-4-0"><circle class="b" cx="340" cy="445" r="28"/><text class="f27" x="330" y="446" textLength="140" lengthAdjust="spacingAndGlyphs">industry 4.0</text></g>
<g id="n-sustainability"><circle class="r" cx="315" cy="945" r="25"/><text class="f30" x="315.5" y="944" textLength="179" lengthAdjust="spacingAndGlyphs">sustainability</text></g>
<g id="n-food-security"><circle class="r" cx="535" cy="955" r="25"/><text class="f27" x="532.5" y="959" textLength="163" lengthAdjust="spacingAndGlyphs">food security</text></g>
<g id="n-sensor-nodes"><circle class="y" cx="1014" cy="271" r="25"/><text class="f27" x="1014" y="271" textLength="170" lengthAdjust="spacingAndGlyphs">sensor nodes</text></g>
<g id="n-irrigation-systems"><circle class="g" cx="1265" cy="530" r="25"/><text class="f24" x="1283" y="529" textLength="212" lengthAdjust="spacingAndGlyphs">irrigation systems</text></g>
<g id="n-agriculture-4-0"><circle class="b" cx="330" cy="628" r="25"/><text class="f24" x="324" y="626" textLength="172" lengthAdjust="spacingAndGlyphs">agriculture 4.0</text></g>
<g id="n-energy-efficiency"><circle class="y" cx="796" cy="262" r="22"/><text class="f27" x="796.5" y="262" textLength="213" lengthAdjust="spacingAndGlyphs">energy efficiency</text></g>
<g id="n-block-chain"><circle class="b" cx="262" cy="338" r="20"/><text class="f27" x="248" y="338" textLength="144" lengthAdjust="spacingAndGlyphs">block-chain</text></g>
<g id="n-moisture-control"><circle class="g" cx="1320" cy="425" r="20"/><text class="f24" x="1346" y="429" textLength="198" lengthAdjust="spacingAndGlyphs">moisture control</text></g>
<g id="n-remote-sensing"><circle class="r" cx="790" cy="945" r="20"/><text class="f24" x="805" y="949" textLength="196" lengthAdjust="spacingAndGlyphs">remote sensing</text></g>
<g id="n-crop-yield"><circle class="p" cx="1060" cy="1050" r="20"/><text class="f27" x="1065" y="1047" textLength="114" lengthAdjust="spacingAndGlyphs">crop yield</text></g>
<g id="n-plant-disease"><circle class="p" cx="1211" cy="1234" r="20"/><text class="f24" x="1211" y="1234" textLength="146" lengthAdjust="spacingAndGlyphs">plant disease</text></g>
<g id="n-digital-technologies"><circle class="b" cx="227" cy="563" r="16"/><text class="f24" x="227.5" y="563" textLength="213" lengthAdjust="spacingAndGlyphs">digital technologies</text></g>
<g id="n-data-acquisition"><circle class="g" cx="1007" cy="612" r="18"/><text class="f24" x="1007.5" y="612" textLength="189" lengthAdjust="spacingAndGlyphs">data acquisition</text></g>
<g id="n-convolutional-neural-network"><circle class="p" cx="1335" cy="1125" r="18"/><text class="f24" x="1337" y="1129" textLength="324" lengthAdjust="spacingAndGlyphs">convolutional neural network</text></g>
<g id="n-disease-detection"><circle class="p" cx="1292" cy="1174" r="18"/><text class="f24" x="1292.5" y="1174" textLength="193" lengthAdjust="spacingAndGlyphs">disease detection</text></g>
<g id="n-network-security"><circle class="b" cx="640" cy="200" r="17"/><text class="f24" x="638.5" y="202" textLength="197" lengthAdjust="spacingAndGlyphs">network security</text></g>
<g id="n-edge-computing"><circle class="y" cx="792" cy="142" r="15"/><text class="f24" x="792.5" y="142" textLength="179" lengthAdjust="spacingAndGlyphs">edge computing</text></g>
<g id="n-embedded-systems"><circle class="b" cx="510" cy="341" r="15"/><text class="f24" x="510" y="341" textLength="214" lengthAdjust="spacingAndGlyphs">embedded systems</text></g>
<g id="n-digital-agriculture"><circle class="r" cx="393" cy="752" r="15"/><text class="f24" x="393.5" y="752" textLength="207" lengthAdjust="spacingAndGlyphs">digital agriculture</text></g>
<g id="n-internet"><circle class="r" cx="596" cy="812" r="15"/><text class="f24" x="596.5" y="812" textLength="101" lengthAdjust="spacingAndGlyphs">internet</text></g>
<g id="n-innovation"><circle class="r" cx="287" cy="1011" r="15"/><text class="f24" x="287.5" y="1011" textLength="117" lengthAdjust="spacingAndGlyphs">innovation</text></g>
<g id="n-review"><circle class="r" cx="346" cy="1061" r="15"/><text class="f22" x="346" y="1061" textLength="70" lengthAdjust="spacingAndGlyphs">review</text></g>
<g id="n-hydroponics"><circle class="p" cx="1000" cy="712" r="14"/><text class="f22" x="1022.5" y="734" textLength="135" lengthAdjust="spacingAndGlyphs">hydroponics</text></g>
<g id="n-quality-of-life"><circle class="y" cx="456" cy="540" r="8"/><text class="f17" x="456.5" y="540" textLength="113" lengthAdjust="spacingAndGlyphs">quality of life</text></g>
<g id="n-productivity"><circle class="c" cx="729" cy="808" r="12"/><text class="f24" x="729.5" y="808" textLength="141" lengthAdjust="spacingAndGlyphs">productivity</text></g>
<g id="n-security"><circle class="b" cx="395" cy="193" r="12"/><text class="f24" x="395" y="193" textLength="86" lengthAdjust="spacingAndGlyphs">security</text></g>
<g id="n-information-use"><circle class="b" cx="516" cy="634" r="12"/><text class="f22" x="516.5" y="634" textLength="151" lengthAdjust="spacingAndGlyphs">information use</text></g>
<g id="n-agricultural-development"><circle class="r" cx="342" cy="844" r="12"/><text class="f22" x="342.5" y="844" textLength="261" lengthAdjust="spacingAndGlyphs">agricultural development</text></g>
<g id="n-deep-neural-networks"><circle class="p" cx="1371" cy="899" r="12"/><text class="f22" x="1371.5" y="899" textLength="227" lengthAdjust="spacingAndGlyphs">deep neural networks</text></g>
<g id="n-support-vector-machines"><circle class="p" cx="1389" cy="964" r="12"/><text class="f22" x="1389" y="964" textLength="256" lengthAdjust="spacingAndGlyphs">support vector machines</text></g>
<g id="n-livestock"><circle class="r" cx="458" cy="1001" r="12"/><text class="f22" x="458.5" y="1001" textLength="89" lengthAdjust="spacingAndGlyphs">livestock</text></g>
<g id="n-nonhuman"><circle class="r" cx="556" cy="1166" r="12"/><text class="f22" x="556" y="1166" textLength="112" lengthAdjust="spacingAndGlyphs">nonhuman</text></g>
<g id="n-crop-production"><circle class="r" cx="806" cy="1097" r="12"/><text class="f24" x="806" y="1097" textLength="176" lengthAdjust="spacingAndGlyphs">crop production</text></g>
<g id="n-alternative-agriculture"><circle class="r" cx="344" cy="1143" r="12"/><text class="f22" x="344.5" y="1143" textLength="223" lengthAdjust="spacingAndGlyphs">alternative agriculture</text></g>
<g id="n-process-control"><circle class="b" cx="809" cy="308" r="12"/><text class="f19" x="809" y="308" textLength="134" lengthAdjust="spacingAndGlyphs">process control</text></g>
<g id="n-internet-protocols"><circle class="b" cx="888" cy="98" r="6"/><text class="f22" x="888.5" y="98" textLength="187" lengthAdjust="spacingAndGlyphs">internet protocols</text></g>
<g id="n-ecology"><circle class="r" cx="381" cy="680" r="10"/><text class="f22" x="381.5" y="680" textLength="77" lengthAdjust="spacingAndGlyphs">ecology</text></g>
<g id="n-sensor"><circle class="y" cx="871" cy="777" r="10"/><text class="f22" x="871" y="777" textLength="76" lengthAdjust="spacingAndGlyphs">sensor</text></g>
<g id="n-greenhouse-gases"><circle class="r" cx="425" cy="809" r="10"/><text class="f22" x="425" y="809" textLength="170" lengthAdjust="spacingAndGlyphs">greenhouse gases</text></g>
<g id="n-forestry"><circle class="r" cx="832" cy="909" r="10"/><text class="f19" x="832" y="909" textLength="82" lengthAdjust="spacingAndGlyphs">forestry</text></g>
<g id="n-nutrients"><circle class="r" cx="797" cy="1023" r="10"/><text class="f22" x="797" y="1023" textLength="94" lengthAdjust="spacingAndGlyphs">nutrients</text></g>
<g id="n-china"><circle class="r" cx="423" cy="1056" r="10"/><text class="f19" x="423.5" y="1056" textLength="53" lengthAdjust="spacingAndGlyphs">china</text></g>
<g id="n-data-set"><circle class="r" cx="629" cy="1059" r="10"/><text class="f19" x="629.5" y="1059" textLength="73" lengthAdjust="spacingAndGlyphs">data set</text></g>
<g id="n-circular-economy"><circle class="r" cx="291" cy="878" r="10"/><text class="f19" x="291" y="878" textLength="162" lengthAdjust="spacingAndGlyphs">circular economy</text></g>
<g id="n-fruits"><circle class="p" cx="1073" cy="977" r="10"/><text class="f22" x="1073" y="977" textLength="54" lengthAdjust="spacingAndGlyphs">fruits</text></g>
<g id="n-middleware"><circle class="b" cx="504" cy="161" r="7"/><text class="f19" x="504" y="161" textLength="112" lengthAdjust="spacingAndGlyphs">middleware</text></g>
<g id="n-industrial-research"><circle class="b" cx="407" cy="378" r="10"/><text class="f19" x="407" y="378" textLength="174" lengthAdjust="spacingAndGlyphs">industrial research</text></g>
<g id="n-communication-technologies"><circle class="b" cx="578" cy="301" r="10"/><text class="f19" x="578.5" y="301" textLength="253" lengthAdjust="spacingAndGlyphs">communication technologies</text></g>
<g id="n-wsn"><circle class="y" cx="951" cy="163" r="10"/><text class="f22" x="951" y="163" textLength="40" lengthAdjust="spacingAndGlyphs">wsn</text></g>
<g id="n-clustering"><circle class="y" cx="958" cy="308" r="10"/><text class="f19" x="958.5" y="308" textLength="85" lengthAdjust="spacingAndGlyphs">clustering</text></g>
<g id="n-arduino"><circle class="g" cx="1202" cy="453" r="10"/><text class="f22" x="1202.5" y="453" textLength="81" lengthAdjust="spacingAndGlyphs">arduino</text></g>
<g id="n-economic-growths"><circle class="y" cx="817" cy="630" r="10"/><text class="f19" x="817" y="630" textLength="176" lengthAdjust="spacingAndGlyphs">economic growths</text></g>
<g id="n-agricultural-system"><circle class="b" cx="575" cy="241" r="8"/><text class="f22" x="575.5" y="241" textLength="195" lengthAdjust="spacingAndGlyphs">agricultural system</text></g>
<g id="n-monitoring-and-management"><circle class="b" cx="415" cy="408" r="8"/><text class="f17 gray" x="415" y="408" textLength="230" lengthAdjust="spacingAndGlyphs">monitoring and management</text></g>
<g id="n-machine-learning-algorithms"><circle class="p" cx="1349" cy="866" r="8"/><text class="f22" x="1349.5" y="866" textLength="269" lengthAdjust="spacingAndGlyphs">machine learning algorithms</text></g>
<g id="n-diagnosis"><circle class="p" cx="1033" cy="1156" r="8"/><text class="f22" x="1033.5" y="1156" textLength="97" lengthAdjust="spacingAndGlyphs">diagnosis</text></g>
<g id="n-microcontrollers"><circle class="g" cx="1369" cy="482" r="8"/><text class="f22" x="1369.5" y="482" textLength="171" lengthAdjust="spacingAndGlyphs">microcontrollers</text></g>
<g id="n-cybersecurity"><circle class="b" cx="598" cy="116" r="7"/><text class="f19" x="598.5" y="116" textLength="125" lengthAdjust="spacingAndGlyphs">cybersecurity</text></g>
<g id="n-cryptography"><circle class="b" cx="598" cy="78" r="6"/><text class="f19" x="598" y="80" textLength="116" lengthAdjust="spacingAndGlyphs">cryptography</text></g>
<g id="n-security-issues"><circle class="b" cx="700" cy="32" r="5"/><text class="f19" x="701" y="32" textLength="128" lengthAdjust="spacingAndGlyphs">security issues</text></g>
<g id="n-power-management"><circle class="y" cx="1025" cy="45" r="6"/><text class="f19" x="1022" y="45" textLength="310" lengthAdjust="spacingAndGlyphs">power management (telecommunic</text></g>
<g id="n-cost-effective"><circle class="g" cx="1157" cy="150" r="4"/><text class="f19" x="1157.5" y="150" textLength="113" lengthAdjust="spacingAndGlyphs">cost effective</text></g>
<g id="n-lorawan"><circle class="y" cx="800" cy="187" r="8"/><text class="f19" x="799.5" y="187" textLength="75" lengthAdjust="spacingAndGlyphs">lorawan</text></g>
<g id="n-energy-efficient"><circle class="y" cx="916" cy="199" r="8"/><text class="f19" x="916.5" y="199" textLength="143" lengthAdjust="spacingAndGlyphs">energy efficient</text></g>
<g id="n-mqtt"><circle class="g" cx="1176" cy="194" r="4"/><text class="f17" x="1176" y="194" textLength="42" lengthAdjust="spacingAndGlyphs">mqtt</text></g>
<g id="n-temperature-sensor"><circle class="g" cx="1319" cy="215" r="4"/><text class="f19" x="1319" y="215" textLength="174" lengthAdjust="spacingAndGlyphs">temperature sensor</text></g>
<g id="n-ethereum"><circle class="b" cx="145" cy="236" r="5"/><text class="f19" x="145" y="236" textLength="86" lengthAdjust="spacingAndGlyphs">ethereum</text></g>
<g id="n-electric-power-utilization"><circle class="y" cx="1031" cy="234" r="7"/><text class="f19" x="1031" y="234" textLength="214" lengthAdjust="spacingAndGlyphs">electric power utilization</text></g>
<g id="n-wi-fi"><circle class="g" cx="1176" cy="232" r="5"/><text class="f19" x="1176.5" y="232" textLength="39" lengthAdjust="spacingAndGlyphs">wi-fi</text></g>
<g id="n-gsm"><circle class="g" cx="1223" cy="243" r="4"/><text class="f17" x="1223" y="243" textLength="34" lengthAdjust="spacingAndGlyphs">gsm</text></g>
<g id="n-distributed-ledger"><circle class="b" cx="190" cy="277" r="7"/><text class="f19" x="190" y="277" textLength="168" lengthAdjust="spacingAndGlyphs">distributed ledger</text></g>
<g id="n-metadata"><circle class="b" cx="405" cy="303" r="7"/><text class="f19" x="405.5" y="303" textLength="81" lengthAdjust="spacingAndGlyphs">metadata</text></g>
<g id="n-cloud"><circle class="y" cx="1084" cy="333" r="8"/><text class="f19" x="1084.5" y="333" textLength="51" lengthAdjust="spacingAndGlyphs">cloud</text></g>
<g id="n-wireless-lan"><circle class="g" cx="1262" cy="325" r="6"/><text class="f19" x="1262.5" y="325" textLength="259" lengthAdjust="spacingAndGlyphs">wireless local area networks (</text></g>
<g id="n-esp8266"><circle class="g" cx="1311" cy="357" r="4"/><text class="f17" x="1311.5" y="357" textLength="67" lengthAdjust="spacingAndGlyphs">esp8266</text></g>
<g id="n-fuzzy-logic"><circle class="y" cx="1092" cy="386" r="8"/><text class="f19" x="1092" y="386" textLength="98" lengthAdjust="spacingAndGlyphs">fuzzy logic</text></g>
<g id="n-moisture-meters"><circle class="g" cx="1375" cy="390" r="6"/><text class="f19" x="1375.5" y="390" textLength="145" lengthAdjust="spacingAndGlyphs">moisture meters</text></g>
<g id="n-cloud-based"><circle class="g" cx="1103" cy="418" r="8"/><text class="f19" x="1103.5" y="418" textLength="105" lengthAdjust="spacingAndGlyphs">cloud-based</text></g>
<g id="n-case-studies"><circle class="y" cx="468" cy="453" r="7"/><text class="f19" x="468" y="453" textLength="106" lengthAdjust="spacingAndGlyphs">case-studies</text></g>
<g id="n-actuators"><circle class="g" cx="1104" cy="449" r="8"/><text class="f19" x="1104" y="449" textLength="82" lengthAdjust="spacingAndGlyphs">actuators</text></g>
<g id="n-product-design"><circle class="b" cx="359" cy="485" r="7"/><text class="f19" x="359.5" y="485" textLength="103" lengthAdjust="spacingAndGlyphs">product design</text></g>
<g id="n-supply-chain"><circle class="b" cx="79" cy="521" r="8"/><text class="f19" x="79.5" y="521" textLength="119" lengthAdjust="spacingAndGlyphs">supply chain</text></g>
<g id="n-humidity"><circle class="g" cx="1175" cy="564" r="8"/><text class="f19" x="1175.5" y="564" textLength="83" lengthAdjust="spacingAndGlyphs">humidity</text></g>
<g id="n-microcontroller"><circle class="g" cx="1430" cy="573" r="5"/><text class="f19" x="1429.5" y="573" textLength="135" lengthAdjust="spacingAndGlyphs">microcontroller</text></g>
<g id="n-traceability"><circle class="b" cx="65" cy="582" r="8"/><text class="f19" x="65.5" y="582" textLength="103" lengthAdjust="spacingAndGlyphs">traceability</text></g>
<g id="n-rfid"><circle class="b" cx="215" cy="597" r="5"/><text class="f17" x="215.5" y="597" textLength="29" lengthAdjust="spacingAndGlyphs">rfid</text></g>
<g id="n-crop-growth"><circle class="g" cx="1078" cy="648" r="8"/><text class="f19" x="1078" y="648" textLength="106" lengthAdjust="spacingAndGlyphs">crop growth</text></g>
<g id="n-bibliometric"><circle class="r" cx="229" cy="673" r="6"/><text class="f19" x="229" y="673" textLength="104" lengthAdjust="spacingAndGlyphs">bibliometric</text></g>
<g id="n-food-sector"><circle class="b" cx="107" cy="693" r="6"/><text class="f19" x="107" y="693" textLength="98" lengthAdjust="spacingAndGlyphs">food sector</text></g>
<g id="n-ph"><circle class="y" cx="1084" cy="691" r="8"/><text class="f19" x="1084" y="691" textLength="24" lengthAdjust="spacingAndGlyphs">ph</text></g>
<g id="n-pct-moisture"><circle class="g" cx="1384" cy="688" r="5"/><text class="f19" x="1384.5" y="688" textLength="93" lengthAdjust="spacingAndGlyphs">%moisture</text></g>
<g id="n-scopus"><circle class="r" cx="197" cy="724" r="6"/><text class="f19" x="197.5" y="724" textLength="61" lengthAdjust="spacingAndGlyphs">scopus</text></g>
<g id="n-information-system"><circle class="r" cx="327" cy="714" r="8"/><text class="f19" x="327.5" y="714" textLength="167" lengthAdjust="spacingAndGlyphs">information system</text></g>
<g id="n-crop-recommendation"><circle class="p" cx="1348" cy="755" r="6"/><text class="f19" x="1348" y="755" textLength="190" lengthAdjust="spacingAndGlyphs">crop recommendation</text></g>
<g id="n-catering-service"><circle class="r" cx="153" cy="799" r="6"/><text class="f19" x="153" y="799" textLength="134" lengthAdjust="spacingAndGlyphs">catering service</text></g>
<g id="n-education"><circle class="r" cx="266" cy="792" r="8"/><text class="f19" x="266" y="792" textLength="86" lengthAdjust="spacingAndGlyphs">education</text></g>
<g id="n-seed"><circle class="g" cx="941" cy="788" r="8"/><text class="f19" x="941.5" y="788" textLength="47" lengthAdjust="spacingAndGlyphs">seed</text></g>
<g id="n-moisture"><circle class="g" cx="1224" cy="812" r="8"/><text class="f19" x="1224" y="812" textLength="76" lengthAdjust="spacingAndGlyphs">moisture</text></g>
<g id="n-decision-tree"><circle class="p" cx="1425" cy="835" r="5"/><text class="f19" x="1425.5" y="835" textLength="111" lengthAdjust="spacingAndGlyphs">decision tree</text></g>
<g id="n-pollution"><circle class="r" cx="552" cy="850" r="8"/><text class="f19" x="552" y="850" textLength="80" lengthAdjust="spacingAndGlyphs">pollution</text></g>
<g id="n-population-growth"><circle class="r" cx="788" cy="866" r="8"/><text class="f19" x="788.5" y="866" textLength="161" lengthAdjust="spacingAndGlyphs">population growth</text></g>
<g id="n-crop-productivity"><circle class="g" cx="1009" cy="877" r="8"/><text class="f19" x="1009.5" y="877" textLength="161" lengthAdjust="spacingAndGlyphs">crop productivity</text></g>
<g id="n-food-chain"><circle class="r" cx="164" cy="957" r="5"/><text class="f17" x="164.5" y="957" textLength="83" lengthAdjust="spacingAndGlyphs">food chain</text></g>
<g id="n-floods"><circle class="r" cx="994" cy="970" r="6"/><text class="f19" x="994" y="970" textLength="56" lengthAdjust="spacingAndGlyphs">floods</text></g>
<g id="n-fresh-water"><circle class="r" cx="674" cy="984" r="8"/><text class="f17" x="674.5" y="984" textLength="97" lengthAdjust="spacingAndGlyphs">fresh water</text></g>
<g id="n-pest-control"><circle class="r" cx="819" cy="990" r="8"/><text class="f19" x="819.5" y="990" textLength="105" lengthAdjust="spacingAndGlyphs">pest control</text></g>
<g id="n-digitization"><circle class="r" cx="167" cy="1009" r="8"/><text class="f19" x="167.5" y="1009" textLength="103" lengthAdjust="spacingAndGlyphs">digitization</text></g>
<g id="n-plant-growth"><circle class="r" cx="994" cy="1011" r="8"/><text class="f19" x="994.5" y="1011" textLength="119" lengthAdjust="spacingAndGlyphs">plant growth</text></g>
<g id="n-svm"><circle class="p" cx="1425" cy="1022" r="5"/><text class="f17" x="1425" y="1022" textLength="34" lengthAdjust="spacingAndGlyphs">svm</text></g>
<g id="n-city"><circle class="r" cx="544" cy="1041" r="6"/><text class="f17" x="544.5" y="1041" textLength="29" lengthAdjust="spacingAndGlyphs">city</text></g>
<g id="n-crops-agricultural"><circle class="r" cx="787" cy="1054" r="8"/><text class="f17" x="787.5" y="1054" textLength="157" lengthAdjust="spacingAndGlyphs">crops, agricultural</text></g>
<g id="n-soil-quality"><circle class="p" cx="950" cy="1063" r="8"/><text class="f17" x="950" y="1063" textLength="94" lengthAdjust="spacingAndGlyphs">soil quality</text></g>
<g id="n-support-vectors-machine"><circle class="p" cx="1452" cy="1052" r="6"/><text class="f17" x="1452.5" y="1052" textLength="215" lengthAdjust="spacingAndGlyphs">support vectors machine</text></g>
<g id="n-greenhouse-gas"><circle class="r" cx="321" cy="1094" r="8"/><text class="f19" x="321" y="1094" textLength="140" lengthAdjust="spacingAndGlyphs">greenhouse gas</text></g>
<g id="n-animalia"><circle class="r" cx="509" cy="1091" r="8"/><text class="f17" x="509" y="1091" textLength="74" lengthAdjust="spacingAndGlyphs">animalia</text></g>
<g id="n-classification"><circle class="p" cx="1230" cy="1089" r="8"/><text class="f19" x="1230" y="1089" textLength="116" lengthAdjust="spacingAndGlyphs">classification</text></g>
<g id="n-feature-extraction"><circle class="p" cx="1378" cy="1092" r="8"/><text class="f19" x="1378" y="1092" textLength="168" lengthAdjust="spacingAndGlyphs">feature extraction</text></g>
<g id="n-vegetation"><circle class="r" cx="978" cy="1105" r="6"/><text class="f19" x="978.5" y="1105" textLength="97" lengthAdjust="spacingAndGlyphs">vegetation</text></g>
<g id="n-land-use"><circle class="r" cx="650" cy="1117" r="8"/><text class="f19" x="650" y="1117" textLength="66" lengthAdjust="spacingAndGlyphs">land use</text></g>
<g id="n-wetlands"><circle class="r" cx="494" cy="1138" r="6"/><text class="f15" x="494.5" y="1138" textLength="69" lengthAdjust="spacingAndGlyphs">wetlands</text></g>
<g id="n-viruses"><circle class="r" cx="667" cy="1148" r="6"/><text class="f17" x="667" y="1148" textLength="62" lengthAdjust="spacingAndGlyphs">viruses</text></g>
<g id="n-harvest"><circle class="r" cx="911" cy="1159" r="5"/><text class="f17" x="911" y="1159" textLength="58" lengthAdjust="spacingAndGlyphs">harvest</text></g>
<g id="n-satellite-imagery"><circle class="p" cx="771" cy="1181" r="6"/><text class="f17" x="771.5" y="1181" textLength="143" lengthAdjust="spacingAndGlyphs">satellite imagery</text></g>
<g id="n-cnn"><circle class="p" cx="1443" cy="1175" r="6"/><text class="f17" x="1443.5" y="1175" textLength="31" lengthAdjust="spacingAndGlyphs">cnn</text></g>
<g id="n-europe"><circle class="r" cx="289" cy="1187" r="5"/><text class="f15" x="289.5" y="1187" textLength="55" lengthAdjust="spacingAndGlyphs">europe</text></g>
<g id="n-farmers"><circle class="r" cx="389" cy="1195" r="8"/><text class="f19" x="389" y="1195" textLength="74" lengthAdjust="spacingAndGlyphs">farmers</text></g>
<g id="n-biosensors"><circle class="r" cx="539" cy="1198" r="8"/><text class="f19" x="539" y="1198" textLength="96" lengthAdjust="spacingAndGlyphs">biosensors</text></g>
<g id="n-controlled-study"><circle class="r" cx="679" cy="1217" r="8"/><text class="f19" x="679.5" y="1217" textLength="143" lengthAdjust="spacingAndGlyphs">controlled study</text></g>
<g id="n-leaf-disease"><circle class="p" cx="1449" cy="1213" r="8"/><text class="f19" x="1449" y="1213" textLength="108" lengthAdjust="spacingAndGlyphs">leaf disease</text></g>
<g id="n-maize"><circle class="r" cx="912" cy="1230" r="6"/><text class="f19" x="912" y="1230" textLength="50" lengthAdjust="spacingAndGlyphs">maize</text></g>
<g id="n-plant-diseases"><circle class="p" cx="1018" cy="1226" r="6"/><text class="f19" x="1018.5" y="1226" textLength="125" lengthAdjust="spacingAndGlyphs">plant diseases</text></g>
<g id="n-farmers-attitude"><circle class="r" cx="394" cy="1248" r="6"/><text class="f19" x="394" y="1248" textLength="142" lengthAdjust="spacingAndGlyphs">farmers attitude</text></g>
<g id="n-fertilizer"><circle class="r" cx="608" cy="1260" r="6"/><text class="f19" x="608" y="1260" textLength="74" lengthAdjust="spacingAndGlyphs">fertilizer</text></g>
<g id="n-nitrogen"><circle class="r" cx="697" cy="1259" r="6"/><text class="f19" x="697.5" y="1259" textLength="75" lengthAdjust="spacingAndGlyphs">nitrogen</text></g>
<g id="n-plant-leaves"><circle class="p" cx="1408" cy="1259" r="6"/><text class="f19" x="1408" y="1259" textLength="104" lengthAdjust="spacingAndGlyphs">plant leaves</text></g>
<g id="n-crop-selections"><circle class="r" cx="993" cy="1277" r="4"/><text class="f17" x="993" y="1277" textLength="120" lengthAdjust="spacingAndGlyphs">crop selections</text></g>
<g id="n-italy"><circle class="r" cx="520" cy="1287" r="5"/><text class="f17" x="520.5" y="1287" textLength="35" lengthAdjust="spacingAndGlyphs">italy</text></g>
</g>
</g>
</svg>
